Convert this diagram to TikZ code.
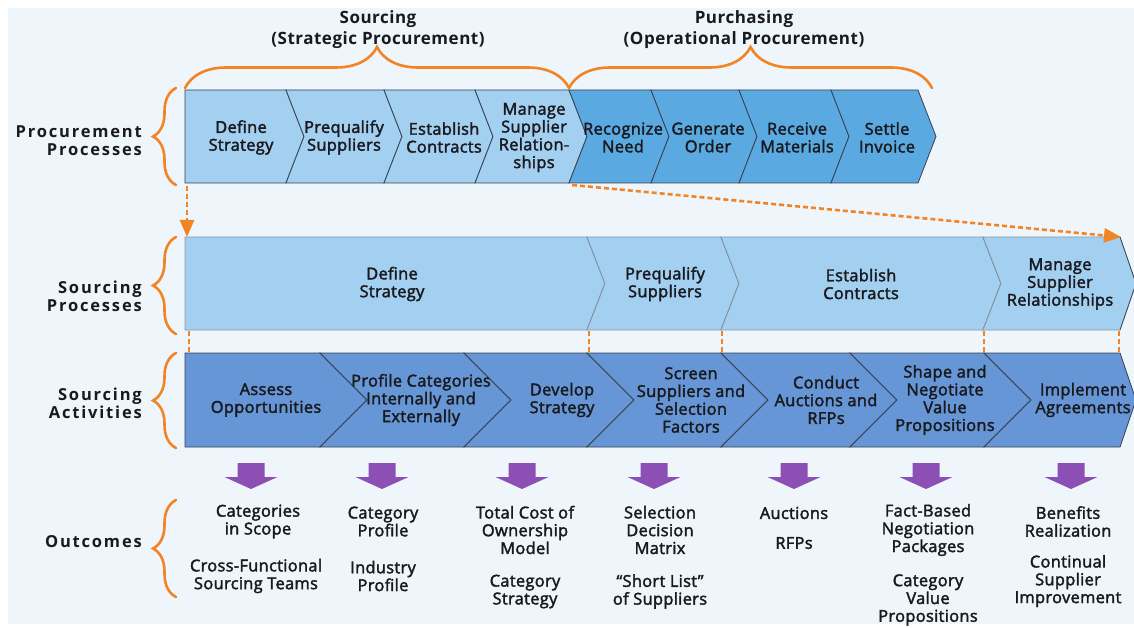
\documentclass[tikz,border=0pt]{standalone}
\usepackage{fontspec}
\setmainfont{Open Sans}[FakeBold=2.2,LetterSpace=2]
\newfontfamily\labelfont[LetterSpace=11]{Open Sans}
\newfontfamily\headfont[LetterSpace=3]{Open Sans}
\usetikzlibrary{decorations.pathreplacing,arrows.meta}

\definecolor{bg}{RGB}{238,245,251}
\definecolor{procA}{RGB}{163,207,240}
\definecolor{procB}{RGB}{90,170,225}
\definecolor{actfill}{RGB}{102,150,214}
\definecolor{brc}{RGB}{242,132,36}
\definecolor{outarrow}{RGB}{140,80,180}
\definecolor{edgeA}{RGB}{55,65,80}
\definecolor{edgeB}{RGB}{140,155,170}
\definecolor{ink}{RGB}{25,25,30}

\begin{document}
\begin{tikzpicture}[x=1pt,y=-1pt,
  txt/.style={align=center,inner sep=0pt,text=ink,font=\fontsize{16.4}{17.8}\selectfont},
  lbl/.style={align=right,anchor=east,inner sep=0pt,text=ink,font=\labelfont\bfseries\fontsize{16.5}{18}\selectfont},
  hdr/.style={align=center,inner sep=0pt,text=ink,font=\headfont\bfseries\fontsize{17}{21}\selectfont},
  bracket/.style={draw=brc,line width=2.6pt,line cap=round,decorate,decoration={brace,amplitude=#1}},
  flow/.style={draw=brc,line width=2.6pt,dash pattern=on 5pt off 3pt,-{Triangle[length=17pt,width=14pt]}},
  link/.style={draw=brc,line width=2.4pt,dash pattern=on 5pt off 3pt},
]
  \path[use as bounding box] (0,0) rectangle (1134,628);
  \fill[bg] (8,8) rectangle (1134,624);

  % procurement processes
  \foreach \xl/\xr/\dl/\dr/\tx/\col/\t [count=\i] in {%
    185/286/0/18/241/procA/{Define\\Strategy},
    286/384/18/18/344/procA/{Prequalify\\Suppliers},
    384/475/18/18/444/procA/{Establish\\Contracts},
    475/569/18/18/534/procA/{Manage\\Supplier\\Relation-\\ships},
    569/651/18/18/623/procB/{Recognize\\Need},
    651/739/18/18/708/procB/{Generate\\Order},
    739/831/18/18/797/procB/{Receive\\Materials},
    831/918/18/18/887/procB/{Settle\\Invoice}} {
    \filldraw[fill=\col,draw=edgeA,line width=0.8pt] (\xl,90) -- (\xr,90) -- (\xr+\dr,136.5)
      -- (\xr,183) -- (\xl,183) -- (\xl+\dl,136.5) -- cycle;
    \node[txt] (pp\i) at (\tx,137.5) {\t};
  }

  % sourcing processes
  \foreach \xl/\xr/\dl/\dr/\tx/\t [count=\i] in {%
    185/587/0/18/392/{Define\\Strategy},
    587/721/18/18/665/{Prequalify\\Suppliers},
    721/983/18/18/861/{Establish\\Contracts},
    983/1120/18/16/1060/{Manage\\Supplier\\Relationships}} {
    \filldraw[fill=procA,draw=edgeB,line width=0.8pt] (\xl,237) -- (\xr,237) -- (\xr+\dr,283.5)
      -- (\xr,330) -- (\xl,330) -- (\xl+\dl,283.5) -- cycle;
    \draw[edgeA,line width=0.7pt] (\xr,237) -- (\xr+\dr,283.5) -- (\xr,330);
    \node[txt] (sp\i) at (\tx,284) {\t};
  }

  % sourcing activities
  \foreach \xl/\xr/\dl/\dr/\tx/\t [count=\i] in {%
    185/320/0/47/266/{Assess\\Opportunities},
    320/464/47/47/421/{Profile Categories\\Internally and\\Externally},
    464/587/47/47/562/{Develop\\Strategy},
    587/721/47/47/691/{Screen\\Suppliers and\\Selection\\Factors},
    721/850/47/47/826/{Conduct\\Auctions and\\RFPs},
    850/984/47/47/945/{Shape and\\Negotiate\\Value\\Propositions},
    984/1120/47/16/1083/{Implement\\Agreements}} {
    \filldraw[fill=actfill,draw=edgeA,line width=0.8pt] (\xl,353) -- (\xr,353) -- (\xr+\dr,400)
      -- (\xr,447) -- (\xl,447) -- (\xl+\dl,400) -- cycle;
    \node[txt] (sa\i) at (\tx,400) {\t};
  }

  % braces
  \draw[bracket=41] (185,88) -- (569,88);
  \draw[bracket=41] (569,88) -- (932,88);
  \draw[bracket=23] (176,185) -- (176,88);
  \draw[bracket=23] (176,334) -- (176,237);
  \draw[bracket=23] (176,448) -- (176,353);
  \draw[bracket=23] (176,597) -- (176,500);

  \node[hdr] (hs) at (378,29.5) {Sourcing\\(Strategic Procurement)};
  \node[hdr] (hp) at (744,29.5) {Purchasing\\(Operational Procurement)};

  \node[lbl] (lp) at (142,141) {Procurement\\Processes};
  \node[lbl] (ls) at (142,296) {Sourcing\\Processes};
  \node[lbl] (la) at (142,403.5) {Sourcing\\Activities};
  \node[lbl] (lo) at (142,542) {Outcomes};

  % orange connectors
  \coordinate (ps) at (187,186);
  \coordinate (sn) at (187,237);
  \coordinate (pm) at (572,185);
  \coordinate (se) at (1121,237);
  \draw[flow] (ps) -- (sn);
  \draw[flow] (pm) -- (se);
  \foreach \x [count=\i] in {189,589,722,984,1119} {
    \coordinate (sb\i) at (\x,331);
    \coordinate (at\i) at (\x,352);
    \draw[link] (sb\i) -- (at\i);
  }

  % outcome arrows
  \foreach \x in {251,382,522,654,794,926,1071}
    \fill[outarrow] (\x-13.5,463) -- (\x+13.5,463) -- (\x+13.5,477) -- (\x+26.5,477)
      -- (\x,489) -- (\x-26.5,477) -- (\x-13.5,477) -- cycle;

  \node[txt] (o1a) at (258,521.5) {Categories\\in Scope};
  \node[txt] (o1b) at (256,576) {Cross-Functional\\Sourcing Teams};
  \node[txt] (o2a) at (383,521.5) {Category\\Profile};
  \node[txt] (o2b) at (383,576) {Industry\\Profile};
  \node[txt] (o3a) at (525,530) {Total Cost of\\Ownership\\Model};
  \node[txt] (o3b) at (525,591.5) {Category\\Strategy};
  \node[txt] (o4a) at (660,530) {Selection\\Decision\\Matrix};
  \node[txt] (o4b) at (660,591.5) {“Short List”\\of Suppliers};
  \node[txt] (o5a) at (794,513) {Auctions};
  \node[txt] (o5b) at (794,543) {RFPs};
  \node[txt] (o6a) at (928,530) {Fact-Based\\Negotiation\\Packages};
  \node[txt] (o6b) at (928,600) {Category\\Value\\Propositions};
  \node[txt] (o7a) at (1068,521.5) {Benefits\\Realization};
  \node[txt] (o7b) at (1068,581) {Continual\\Supplier\\Improvement};
\end{tikzpicture}
\end{document}
